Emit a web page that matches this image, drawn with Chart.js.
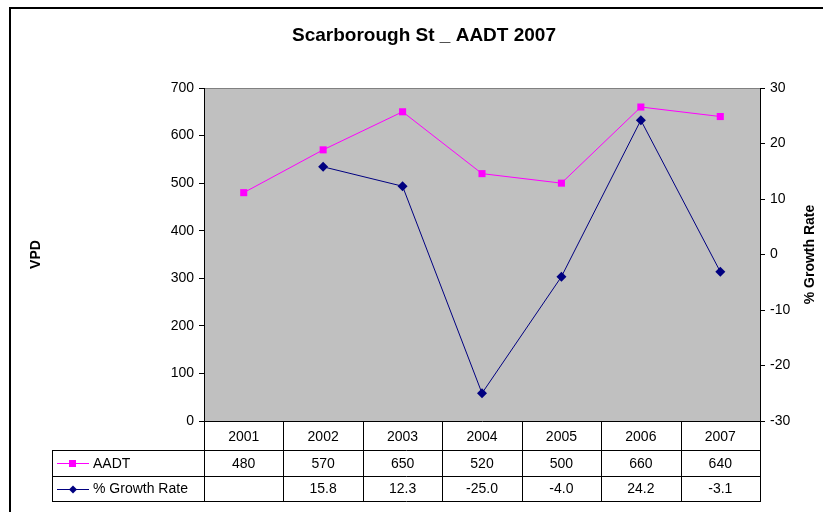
<!DOCTYPE html>
<html>
<head>
<meta charset="utf-8">
<script src="https://cdn.jsdelivr.net/npm/chart.js@4.4.1/dist/chart.umd.min.js"></script>
<style>
html,body{margin:0;padding:0;background:#fff;}
#wrap{position:relative;width:823px;height:512px;}
</style>
</head>
<body>
<div id="wrap"><canvas id="c" width="823" height="512"></canvas></div>
<script>
const chartTitle = "Scarborough St _ AADT 2007";
const years = ["2001", "2002", "2003", "2004", "2005", "2006", "2007"];
const aadt = [480, 570, 650, 520, 500, 660, 640];
const growth = [null, 15.8, 12.3, -25.0, -4.0, 24.2, -3.1];
const seriesNames = ["AADT", "% Growth Rate"];
const leftAxisTitle = "VPD";
const rightAxisTitle = "% Growth Rate";

const FONT = "'Liberation Sans', Arial, sans-serif";
const AADT_COLOR = "#FF00FF";
const GROWTH_COLOR = "#000080";

const tablePlugin = {
  id: "tablePlugin",
  beforeDraw(chart) {
    const ctx = chart.ctx;
    const a = chart.chartArea;
    ctx.save();
    ctx.fillStyle = "#ffffff";
    ctx.fillRect(0, 0, chart.width, chart.height);
    ctx.fillStyle = "#C0C0C0";
    ctx.fillRect(a.left, a.top, a.right - a.left, a.bottom - a.top);
    ctx.strokeStyle = "#808080";
    ctx.lineWidth = 1;
    ctx.beginPath();
    ctx.moveTo(a.left, a.top + 0.5);
    ctx.lineTo(a.right, a.top + 0.5);
    ctx.stroke();
    ctx.restore();
  },
  afterDraw(chart) {
    const ctx = chart.ctx;
    const a = chart.chartArea;
    const xs = chart.scales.x;
    const n = years.length;
    const colW = (a.right - a.left) / n;
    const r1 = a.bottom + 29, r2 = r1 + 26, r3 = r2 + 25;
    const legLeft = 52;
    ctx.save();
    // outer border
    ctx.strokeStyle = "#000";
    ctx.lineWidth = 2;
    ctx.strokeRect(10, 8, 900, 600);
    // table lines
    ctx.lineWidth = 1;
    ctx.strokeStyle = "#000";
    ctx.beginPath();
    for (let i = 0; i <= n; i++) {
      const x = Math.round(a.left + i * colW) + 0.5;
      ctx.moveTo(x, a.bottom);
      ctx.lineTo(x, r3);
    }
    [r1, r2, r3].forEach(y => {
      ctx.moveTo(legLeft, Math.round(y) + 0.5);
      ctx.lineTo(a.right + 1, Math.round(y) + 0.5);
    });
    ctx.moveTo(legLeft + 0.5, r1);
    ctx.lineTo(legLeft + 0.5, r3);
    ctx.stroke();
    // values
    ctx.fillStyle = "#000";
    ctx.font = "14px " + FONT;
    ctx.textAlign = "center";
    ctx.textBaseline = "middle";
    for (let i = 0; i < n; i++) {
      const cx = xs.getPixelForValue(i);
      ctx.fillText(String(aadt[i]), cx, (r1 + r2) / 2 + 1);
      if (growth[i] !== null) ctx.fillText(growth[i].toFixed(1), cx, (r2 + r3) / 2 + 1);
    }
    // legend keys
    const keys = [
      {y: (r1 + r2) / 2, color: AADT_COLOR, style: "rect", name: seriesNames[0]},
      {y: (r2 + r3) / 2, color: GROWTH_COLOR, style: "diamond", name: seriesNames[1]}
    ];
    keys.forEach(k => {
      const y = Math.round(k.y) + 0.5;
      ctx.strokeStyle = k.color;
      ctx.beginPath();
      ctx.moveTo(57, y);
      ctx.lineTo(89, y);
      ctx.stroke();
      ctx.fillStyle = k.color;
      if (k.style === "rect") {
        ctx.fillRect(69, y - 3.5, 7, 7);
      } else {
        ctx.beginPath();
        ctx.moveTo(73, y - 4);
        ctx.lineTo(77, y);
        ctx.lineTo(73, y + 4);
        ctx.lineTo(69, y);
        ctx.closePath();
        ctx.fill();
      }
      ctx.fillStyle = "#000";
      ctx.textAlign = "left";
      ctx.fillText(k.name, 93, k.y + 1);
    });
    // title
    ctx.textAlign = "center";
    ctx.font = "bold 19px " + FONT;
    ctx.fillText(chartTitle, 424, 36);
    // axis titles
    ctx.font = "bold 14px " + FONT;
    ctx.save();
    ctx.translate(36, (a.top + a.bottom) / 2);
    ctx.rotate(-Math.PI / 2);
    ctx.fillText(leftAxisTitle, 0, 0);
    ctx.restore();
    ctx.save();
    ctx.translate(810, (a.top + a.bottom) / 2);
    ctx.rotate(-Math.PI / 2);
    ctx.fillText(rightAxisTitle, 0, 0);
    ctx.restore();
    ctx.restore();
  }
};

new Chart(document.getElementById("c"), {
  type: "line",
  data: {
    labels: years,
    datasets: [
      {
        label: seriesNames[0], data: aadt, yAxisID: "y",
        borderColor: AADT_COLOR, backgroundColor: AADT_COLOR, borderWidth: 1,
        pointStyle: "rect", pointRadius: 5, pointBorderWidth: 0, tension: 0
      },
      {
        label: seriesNames[1], data: growth, yAxisID: "y2",
        borderColor: GROWTH_COLOR, backgroundColor: GROWTH_COLOR, borderWidth: 1,
        pointStyle: "rectRot", pointRadius: 5, pointBorderWidth: 0, tension: 0
      }
    ]
  },
  options: {
    responsive: false,
    animation: false,
    devicePixelRatio: 1,
    layout: {padding: {top: 88, left: 0, right: 0, bottom: 0}},
    plugins: {legend: {display: false}, title: {display: false}, tooltip: {enabled: false}},
    scales: {
      x: {
        offset: true,
        grid: {display: false, drawTicks: false},
        border: {display: true, color: "#000", width: 1},
        ticks: {color: "#000", font: {family: FONT, size: 14}, padding: 8, maxRotation: 0},
        afterFit(s) { s.height = 91; }
      },
      y: {
        position: "left", min: 0, max: 700,
        grid: {drawOnChartArea: false, color: "#000", tickLength: 5},
        border: {display: true, color: "#000", width: 1},
        ticks: {stepSize: 100, color: "#000", font: {family: FONT, size: 14}, padding: 5},
        afterFit(s) { s.width = 204; }
      },
      y2: {
        position: "right", min: -30, max: 30,
        grid: {drawOnChartArea: false, color: "#000", tickLength: 5},
        border: {display: true, color: "#000", width: 1},
        ticks: {stepSize: 10, color: "#000", font: {family: FONT, size: 14}, padding: 5},
        afterFit(s) { s.width = 63; }
      }
    }
  },
  plugins: [tablePlugin]
});
</script>
</body>
</html>
